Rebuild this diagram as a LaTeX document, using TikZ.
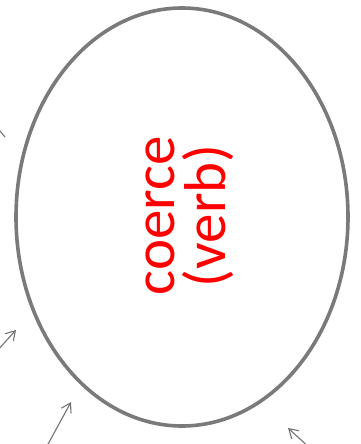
\documentclass[tikz,border=0pt]{standalone}
\usepackage{fontspec}
\setmainfont{Carlito}
\usetikzlibrary{arrows.meta}
\tikzset{
  ring/.style={draw=black!52, line width=3.6pt},
  label/.style={text=red, font=\fontsize{59}{51}\selectfont, align=center, rotate=90, inner sep=0pt},
  sketcharrow/.style={draw=black!55, line width=1.1pt, -{Straight Barb[length=9pt,width=11pt,line width=1.1pt]}}
}
\begin{document}
\begin{tikzpicture}[x=1pt,y=-1pt]
\useasboundingbox (0,0) rectangle (360,444);
\draw[ring] (182,217) ellipse [x radius=166, y radius=209];
\node[label] (word) at (190,216) {coerce\\(verb)};
% partial arrows at edges
\coordinate (a1s) at (-6,124);
\coordinate (a1e) at (5,137);
\draw[draw=black!55, line width=1.1pt] (a1s) -- (a1e);
\coordinate (a2s) at (-4,352);
\coordinate (a2e) at (16,330);
\draw[sketcharrow] (a2s) -- (a2e);
\coordinate (a3s) at (47,446);
\coordinate (a3e) at (71,402);
\draw[sketcharrow] (a3s) -- (a3e);
\coordinate (a4s) at (312,450);
\coordinate (a4e) at (288,428);
\draw[sketcharrow] (a4s) -- (a4e);
\end{tikzpicture}
\end{document}
